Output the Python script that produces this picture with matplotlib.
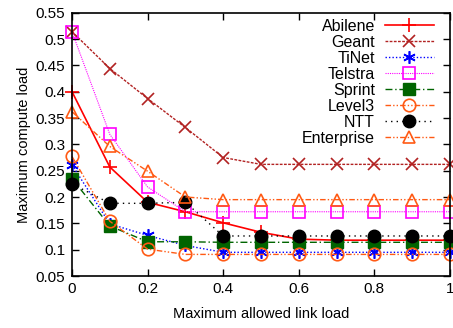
import matplotlib
matplotlib.use("Agg")
import matplotlib.pyplot as plt

plt.rcParams['font.family'] = ['Liberation Sans', 'DejaVu Sans']

x = [0.0, 0.1, 0.2, 0.3, 0.4, 0.5, 0.6, 0.7, 0.8, 0.9, 1.0]
abilene = [0.400, 0.257, 0.190, 0.172, 0.151, 0.133, 0.120, 0.118, 0.118, 0.118, 0.118]
geant = [0.514, 0.444, 0.387, 0.332, 0.275, 0.262, 0.262, 0.262, 0.262, 0.262, 0.262]
tinet = [0.261, 0.149, 0.127, 0.108, 0.095, 0.095, 0.095, 0.095, 0.095, 0.095, 0.095]
telstra = [0.514, 0.319, 0.219, 0.172, 0.172, 0.172, 0.172, 0.172, 0.172, 0.172, 0.172]
sprint = [0.235, 0.145, 0.115, 0.115, 0.114, 0.114, 0.114, 0.114, 0.114, 0.114, 0.114]
level3 = [0.277, 0.154, 0.101, 0.091, 0.091, 0.091, 0.091, 0.091, 0.091, 0.091, 0.091]
ntt = [0.225, 0.188, 0.188, 0.190, 0.126, 0.126, 0.126, 0.126, 0.126, 0.126, 0.126]
enterprise = [0.362, 0.296, 0.249, 0.200, 0.195, 0.195, 0.195, 0.195, 0.195, 0.195, 0.195]

xticks = [0, 0.2, 0.4, 0.6, 0.8, 1.0]
xticklabels = ["0", "0.2", "0.4", "0.6", "0.8", "1"]
yticks = [0.05, 0.1, 0.15, 0.2, 0.25, 0.3, 0.35, 0.4, 0.45, 0.5, 0.55]
yticklabels = ["0.05", "0.1", "0.15", "0.2", "0.25", "0.3", "0.35", "0.4", "0.45", "0.5", "0.55"]

fig = plt.figure(figsize=(4.53, 3.28), dpi=100)
ax = fig.add_axes([72/453, 1 - 276/328, (450-72)/453, (276-12.7)/328])

series = [
    ("Abilene", abilene, dict(color="#ff0000", ls="-", marker="+", ms=10, mew=1.2, mfc="none", lw=1.2)),
    ("Geant", geant, dict(color="#b22222", ls=(0, (2, 1)), marker="x", ms=9, mew=1.2, mfc="none", lw=1.0)),
    ("TiNet", tinet, dict(color="#0000ff", ls=(0, (1, 1.5)), marker=(6, 2, 0), ms=9, mew=1.2, mfc="none", lw=1.0)),
    ("Telstra", telstra, dict(color="#ff00ff", ls=(0, (1, 1)), marker="s", ms=9, mew=1.2, mfc="none", lw=0.8)),
    ("Sprint", sprint, dict(color="#006400", ls=(0, (5, 2, 1, 2)), marker="s", ms=9, mew=1.0, mfc="#006400", lw=1.0)),
    ("Level3", level3, dict(color="#ff5a14", ls=(0, (4, 1.5, 1, 1.5, 1, 1.5)), marker="o", ms=9, mew=1.2, mfc="none", lw=1.0)),
    ("NTT", ntt, dict(color="#000000", ls=(0, (1, 3)), marker="o", ms=9, mew=1.0, mfc="#000000", lw=1.0)),
    ("Enterprise", enterprise, dict(color="#ff5a14", ls=(0, (4, 1.5, 1, 1.5, 1, 1.5)), marker="^", ms=9, mew=1.2, mfc="none", lw=1.0)),
]

for name, vals, st in series:
    ax.plot(x, vals, label=name, clip_on=False, **st)

ax.set_xlim(0, 1)
ax.set_ylim(0.05, 0.55)
ax.set_xticks(xticks)
ax.set_xticklabels(xticklabels)
ax.set_yticks(yticks)
ax.set_yticklabels(yticklabels)
ax.tick_params(direction="in", top=True, right=True, labelsize=11, length=5, width=1)
ax.tick_params(axis="x", pad=4)
ax.tick_params(axis="y", pad=5)
for s in ax.spines.values():
    s.set_linewidth(1.2)

ax.set_xlabel("Maximum allowed link load", fontsize=10.5, labelpad=8)
ax.set_ylabel("Maximum compute load", fontsize=10.5, labelpad=3)

leg = ax.legend(loc="upper right", frameon=False, markerfirst=False, fontsize=11.5,
                handlelength=3.1, handletextpad=0.6, labelspacing=0.06,
                borderaxespad=0.0, bbox_to_anchor=(0.975, 1.0))

fig.savefig("out.png", dpi=100)
